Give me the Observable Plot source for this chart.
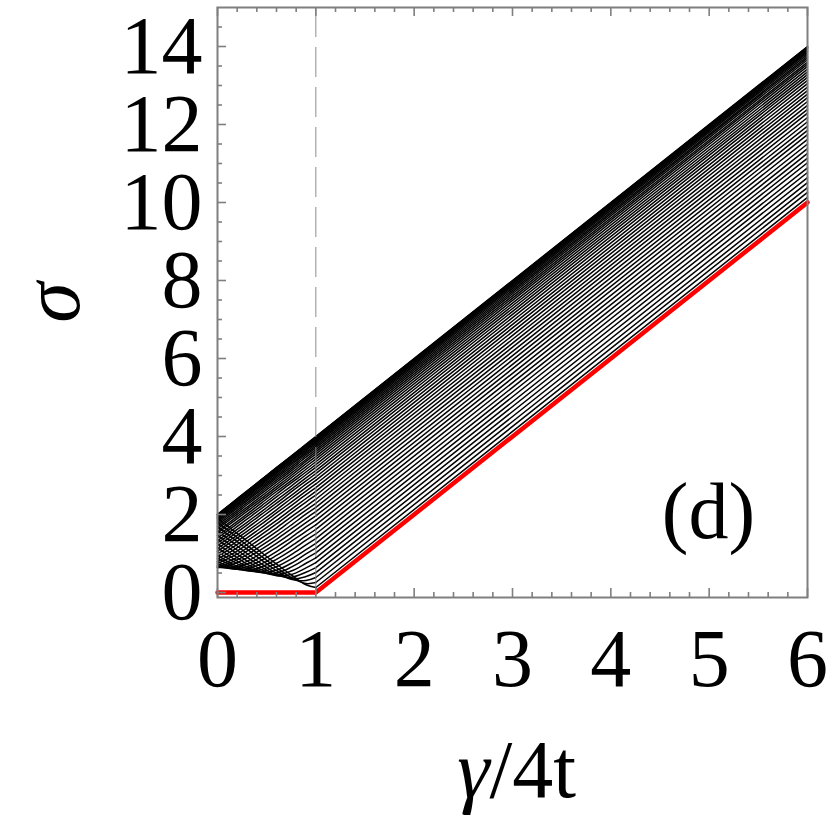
<!DOCTYPE html>
<html>
<head>
<meta charset="utf-8">
<script src="https://cdn.jsdelivr.net/npm/d3@7"></script>
<script src="https://cdn.jsdelivr.net/npm/@observablehq/plot@0.6"></script>
<style>
  html, body { margin: 0; padding: 0; background: #ffffff; }
  #chart svg { display: block; }
</style>
</head>
<body>
<div id="chart"></div>
<script>
// ---- data ----
// x positions (γ/4t) at which every black curve was read
const xGrid = [0, 0.15, 0.3, 0.45, 0.6, 0.75, 0.9, 1];

// σ of each black curve (48 curves, top to bottom at x = 1), one array per x position
const sigmaAt0   = [2.00,2.00,2.00,1.99,1.97,1.95,1.93,1.91,1.88,1.85,1.81,1.77,1.73,1.68,1.63,1.57,1.52,1.46,1.40,1.33,1.27,1.20,1.13,1.06,0.99,0.93,0.86,0.80,0.75,0.70,0.66,0.64,0.64,0.66,0.69,0.74,0.80,0.88,0.96,1.05,1.15,1.25,1.36,1.47,1.58,1.69,1.80,1.91];
const sigmaAt015 = [2.30,2.30,2.29,2.28,2.27,2.25,2.23,2.20,2.17,2.14,2.10,2.06,2.01,1.96,1.91,1.85,1.80,1.73,1.67,1.60,1.53,1.46,1.38,1.31,1.23,1.15,1.07,0.99,0.92,0.84,0.78,0.72,0.66,0.63,0.61,0.61,0.63,0.68,0.73,0.81,0.89,0.98,1.08,1.18,1.29,1.40,1.51,1.61];
const sigmaAt03  = [2.60,2.60,2.59,2.58,2.56,2.54,2.52,2.49,2.46,2.43,2.39,2.35,2.30,2.25,2.19,2.14,2.08,2.01,1.95,1.88,1.80,1.73,1.65,1.57,1.49,1.40,1.32,1.23,1.14,1.06,0.97,0.89,0.80,0.73,0.66,0.61,0.57,0.56,0.57,0.61,0.66,0.73,0.81,0.91,1.00,1.11,1.21,1.32];
const sigmaAt045 = [2.90,2.90,2.89,2.88,2.86,2.84,2.82,2.79,2.76,2.72,2.68,2.64,2.59,2.54,2.48,2.42,2.36,2.30,2.23,2.16,2.08,2.01,1.93,1.84,1.76,1.67,1.58,1.49,1.40,1.30,1.21,1.11,1.02,0.92,0.83,0.74,0.66,0.59,0.54,0.51,0.51,0.53,0.58,0.65,0.73,0.83,0.92,1.02];
const sigmaAt06  = [3.20,3.20,3.19,3.17,3.16,3.14,3.11,3.08,3.05,3.01,2.97,2.93,2.88,2.83,2.77,2.71,2.65,2.59,2.52,2.45,2.37,2.29,2.21,2.12,2.04,1.95,1.85,1.76,1.66,1.56,1.46,1.36,1.26,1.16,1.05,0.95,0.85,0.75,0.66,0.57,0.50,0.45,0.43,0.45,0.49,0.56,0.64,0.73];
const sigmaAt075 = [3.50,3.49,3.49,3.47,3.45,3.43,3.41,3.38,3.35,3.31,3.27,3.22,3.17,3.12,3.06,3.00,2.94,2.87,2.81,2.73,2.65,2.58,2.49,2.41,2.32,2.23,2.13,2.04,1.94,1.84,1.73,1.63,1.52,1.41,1.31,1.19,1.08,0.97,0.86,0.75,0.65,0.55,0.46,0.39,0.35,0.34,0.38,0.45];
const sigmaAt09  = [3.80,3.79,3.78,3.77,3.75,3.73,3.70,3.67,3.64,3.60,3.56,3.52,3.47,3.41,3.36,3.30,3.23,3.16,3.09,3.02,2.94,2.86,2.78,2.69,2.60,2.51,2.41,2.32,2.21,2.11,2.01,1.90,1.79,1.68,1.57,1.45,1.34,1.22,1.10,0.99,0.87,0.75,0.63,0.52,0.41,0.31,0.23,0.20];
const sigmaAt1   = [3.998,3.992,3.982,3.967,3.949,3.926,3.900,3.869,3.835,3.796,3.754,3.708,3.658,3.604,3.546,3.485,3.421,3.352,3.281,3.206,3.127,3.046,2.961,2.873,2.783,2.689,2.593,2.494,2.392,2.288,2.182,2.074,1.963,1.850,1.736,1.619,1.501,1.381,1.260,1.138,1.015,0.890,0.765,0.638,0.512,0.384,0.256,0.128];
const sigmaAt6   = [14.00,13.99,13.98,13.97,13.95,13.93,13.90,13.87,13.84,13.80,13.75,13.71,13.66,13.60,13.55,13.49,13.42,13.35,13.28,13.21,13.13,13.05,12.96,12.87,12.78,12.69,12.59,12.49,12.39,12.29,12.18,12.07,11.96,11.85,11.74,11.62,11.50,11.38,11.26,11.14,11.02,10.89,10.77,10.64,10.51,10.38,10.26,10.13];

// red (lowest) branch
const redX = [0, 1, 6];
const redSigma = [0, 0, 10];

// dashed marker of the transition point
const criticalX = [1];

// tick labels
const xTickLabels = [0, 1, 2, 3, 4, 5, 6];
const yTickLabels = [0, 2, 4, 6, 8, 10, 12, 14];

// ---- tables built from the arrays ----
const leftColumns = [sigmaAt0, sigmaAt015, sigmaAt03, sigmaAt045, sigmaAt06, sigmaAt075, sigmaAt09, sigmaAt1];
const leftRows = [];
const rightRows = [];
for (let j = 0; j < sigmaAt1.length; j++) {
  for (let i = 0; i < xGrid.length; i++) {
    leftRows.push({k: j, x: xGrid[i], s: leftColumns[i][j]});
  }
  rightRows.push({k: j, x: 1, s: sigmaAt1[j]});
  rightRows.push({k: j, x: 6, s: sigmaAt6[j]});
}
const redRows = redX.map((x, i) => ({x, s: redSigma[i]}));

// ---- layout ----
const W = 830, H = 826;
const mL = 217, mR = 23, mT = 7, mB = 229;
const innerW = W - mL - mR, innerH = H - mT - mB;
const majorLen = 9, minorLen = 5;
const gray = "#7f7f7f";
const xMinor = d3.range(1, 30).map(i => i / 5).filter(v => Math.abs(v - Math.round(v)) > 1e-6);
const yMinor = d3.range(1, 30).map(i => i / 2).filter(v => v % 2 !== 0);
const serif = "'Liberation Serif', 'Times New Roman', Times, serif";
const intFormat = d => String(d);

const chart = Plot.plot({
  width: W,
  height: H,
  marginLeft: mL,
  marginRight: mR,
  marginTop: mT,
  marginBottom: mB,
  x: {domain: [0, 6]},
  y: {domain: [-0.128, 15]},
  style: {fontFamily: serif, background: "#ffffff", color: "#000000"},
  marks: [
    Plot.line(leftRows, {x: "x", y: "s", z: "k", curve: "catmull-rom", stroke: "#000", strokeWidth: 1.5}),
    Plot.line(rightRows, {x: "x", y: "s", z: "k", stroke: "#000", strokeWidth: 1.5}),
    Plot.line(redRows, {x: "x", y: "s", stroke: "#ff0000", strokeWidth: 4.5}),
    Plot.ruleX(criticalX, {stroke: "#8c8c8c", strokeWidth: 1, strokeDasharray: "30,10"}),
    // bottom ticks (inward)
    Plot.tickX(xMinor, {x: d => d, insetTop: innerH - minorLen, stroke: gray, strokeWidth: 1.6}),
    Plot.tickX(xTickLabels, {x: d => d, insetTop: innerH - majorLen, stroke: gray, strokeWidth: 1.6}),
    // top ticks (inward)
    Plot.tickX(xMinor, {x: d => d, insetBottom: innerH - minorLen, stroke: gray, strokeWidth: 1.6}),
    Plot.tickX(xTickLabels, {x: d => d, insetBottom: innerH - majorLen, stroke: gray, strokeWidth: 1.6}),
    // left ticks (inward)
    Plot.tickY(yMinor, {y: d => d, insetRight: innerW - minorLen, stroke: gray, strokeWidth: 1.6}),
    Plot.tickY(yTickLabels, {y: d => d, insetRight: innerW - majorLen, stroke: gray, strokeWidth: 1.6}),
    Plot.frame({stroke: gray, strokeWidth: 2}),
    Plot.axisX({ticks: xTickLabels, tickFormat: intFormat, tickSize: 0, tickPadding: 30, fontSize: 82, label: null}),
    Plot.axisY({ticks: yTickLabels, tickFormat: intFormat, tickSize: 0, tickPadding: 15, fontSize: 82, label: null}),
    Plot.text(["(d)"], {text: d => d, frameAnchor: "bottom-right", dx: -99, dy: -60, fontSize: 80, textAnchor: "middle"}),
    Plot.text(["γ"], {text: d => d, frameAnchor: "bottom", dx: -23, dy: 199, fontSize: 82, fontStyle: "italic", textAnchor: "end"}),
    Plot.text(["/4t"], {text: d => d, frameAnchor: "bottom", dx: -23, dy: 199, fontSize: 82, textAnchor: "start"}),
    Plot.text(["σ"], {text: d => d, frameAnchor: "left", dx: -165, rotate: -90, fontSize: 82, fontStyle: "italic", textAnchor: "middle"})
  ]
});
document.getElementById("chart").appendChild(chart);
</script>
</body>
</html>
